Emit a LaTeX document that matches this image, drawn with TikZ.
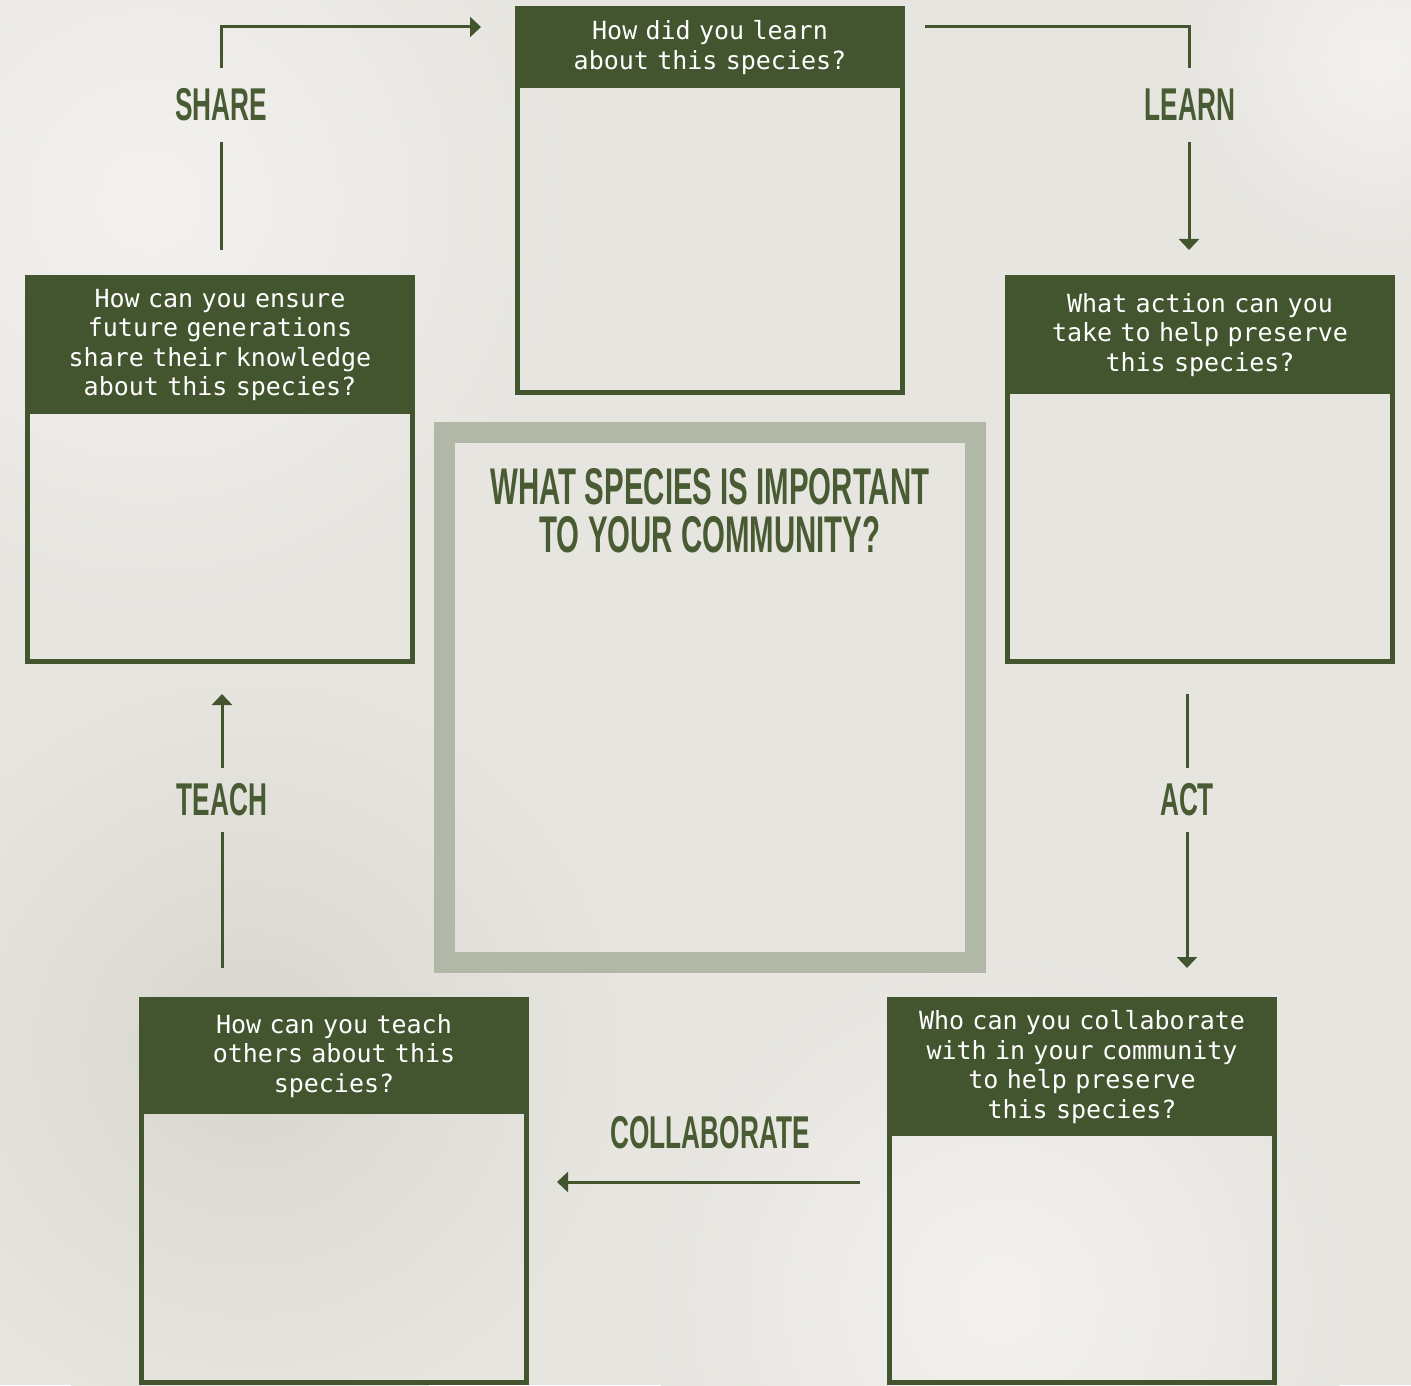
\documentclass[tikz,border=0pt]{standalone}
\usepackage{fontspec}
\newfontfamily\qfont{DejaVu Sans Mono}
\newfontfamily\headfont[FakeStretch=0.57]{Liberation Sans}
\usetikzlibrary{arrows.meta}
\definecolor{dkgreen}{HTML}{42552F}
\definecolor{lblgreen}{HTML}{485B32}
\definecolor{framegray}{HTML}{B2B8A8}
\definecolor{bg}{HTML}{E6E5E0}
\definecolor{bglight}{HTML}{F2F1EE}
\definecolor{bgdark}{HTML}{D8D6CE}
\begin{document}
\begin{tikzpicture}[x=0.5pt,y=-0.5pt,
  qbox/.style={draw=dkgreen, line width=2.5pt, minimum width=192.5pt, minimum height=191.5pt, inner sep=0pt},
  qhead/.style={fill=dkgreen, text=white, anchor=north, minimum width=195pt, inner sep=0pt,
    text width=190pt, align=center, font=\qfont\fontsize{12.5}{14.75}\selectfont},
  steplabel/.style={text=lblgreen, inner sep=0pt, font=\headfont\bfseries\fontsize{23}{23}\selectfont},
  conn/.style={draw=dkgreen, line width=1.5pt},
  tip/.style={-{Triangle[width=10pt,length=5.5pt]}}
]
\useasboundingbox (0,0) rectangle (1411,1385);
\begin{scope}
\clip (0,0) rectangle (1411,1385);
% background
\fill[bg] (0,0) rectangle (1411,1385);
\shade[inner color=bglight, outer color=bg] (150,200) circle (420);
\shade[inner color=bglight, outer color=bg] (1000,1300) circle (350);
\shade[inner color=bgdark, outer color=bg] (250,1050) circle (380);
\shade[inner color=bglight, outer color=bg] (1380,60) circle (200);

% centre frame
\node[draw=framegray, line width=10.5pt, minimum width=265.5pt, minimum height=265pt, inner sep=0pt] (centre) at (710,697.5) {};
\node[text=lblgreen, align=center, inner sep=0pt,
  font=\headfont\bfseries\fontsize{25.8}{24}\selectfont] (title) at (710,511)
  {WHAT SPECIES IS IMPORTANT\\TO YOUR COMMUNITY?};

% question boxes
\node[qbox] (topbox) at (710,200.5) {};
\node[qhead, minimum height=41pt] (toph) at (710,6) {How did you learn\\about this species?};

\node[qbox] (leftbox) at (220,469.5) {};
\node[qhead, minimum height=69.5pt] (lefth) at (220,275) {How can you ensure\\future generations\\share their knowledge\\about this species?};

\node[qbox] (rightbox) at (1200,469.5) {};
\node[qhead, minimum height=59.5pt] (righth) at (1200,275) {What action can you\\take to help preserve\\this species?};

\node[qbox] (blbox) at (334,1191) {};
\node[qhead, minimum height=58.5pt] (blh) at (334,997) {How can you teach\\others about this\\species?};

\node[qbox] (brbox) at (1082,1191) {};
\node[qhead, minimum height=69.5pt] (brh) at (1082,997) {Who can you collaborate\\with in your community\\to help preserve\\this species?};

% step labels
\node[steplabel, minimum height=37pt] (share) at (221,105) {SHARE};
\node[steplabel, minimum height=37pt] (learn) at (1190,105) {LEARN};
\node[steplabel, minimum height=32pt] (act) at (1187,800) {ACT};
\node[steplabel, minimum height=32pt] (teach) at (222,800) {TEACH};
\node[steplabel] (collab) at (710,1133) {COLLABORATE};

% free ends
\coordinate (sh1) at (221,250);
\coordinate (sh2) at (481,27);
\coordinate (le1) at (925,27);
\coordinate (le2) at (1189,250);
\coordinate (ac1) at (1187,694);
\coordinate (ac2) at (1187,968);
\coordinate (co1) at (860,1182);
\coordinate (co2) at (557,1182);
\coordinate (te1) at (222,968);
\coordinate (te2) at (222,694);

% connectors
\draw[conn] (sh1) -- (share.south);
\draw[conn, tip] (share.north) |- (sh2);
\draw[conn] (le1) -| (learn.north -| le2);
\draw[conn, tip] (learn.south -| le2) -- (le2);
\draw[conn] (ac1) -- (act.north -| ac1);
\draw[conn, tip] (act.south -| ac1) -- (ac2);
\draw[conn, tip] (co1) -- (co2);
\draw[conn] (te1) -- (teach.south -| te1);
\draw[conn, tip] (teach.north -| te1) -- (te2);
\end{scope}
\end{tikzpicture}
\end{document}
